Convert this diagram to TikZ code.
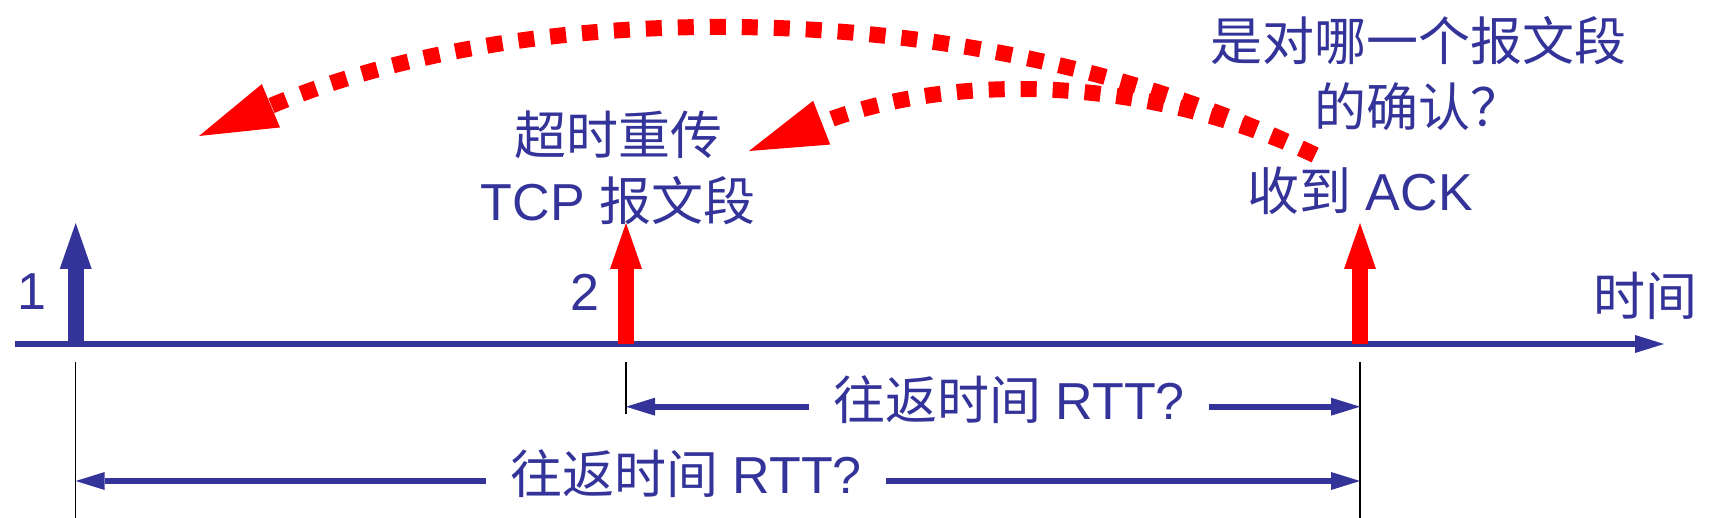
\documentclass[tikz,border=0pt]{standalone}
\usepackage{fontspec}
\setmainfont{Liberation Sans}
\newfontfamily\cjk{Noto Sans CJK SC}
\usetikzlibrary{arrows.meta}
\definecolor{tblue}{RGB}{51,51,153}
\definecolor{tred}{RGB}{255,0,0}
\tikzset{
  lbl/.style={text=tblue, font=\fontsize{52}{66}\selectfont, inner sep=0pt, align=center},
  axisline/.style={draw=tblue, line width=6pt, -{Triangle[length=29pt,width=18pt,line width=0pt]}},
  evtblue/.style={draw=tblue, line width=16pt, -{Triangle[length=46pt,width=32pt,line width=0pt]}},
  evtred/.style={draw=tred, line width=16pt, -{Triangle[length=46pt,width=32pt,line width=0pt]}},
  guide/.style={draw=black, line width=1.5pt},
  rtt/.style={draw=tblue, line width=6pt, -{Triangle[length=29pt,width=18pt,line width=0pt]}},
  retx/.style={draw=tred, line width=16pt, dash pattern=on 16pt off 16pt, -{Triangle[length=78pt,width=47pt,line width=0pt]}},
}
\begin{document}
\begin{tikzpicture}[x=1pt,y=-1pt]
\useasboundingbox (0,0) rectangle (1720,518);
% time axis
\coordinate (ax0) at (15,344);
\coordinate (ax1) at (1664,344);
\draw[axisline] (ax0) -- (ax1);
% events
\coordinate (e1b) at (75.7,344);  \coordinate (e1t) at (75.7,223);
\coordinate (e2b) at (626,344);   \coordinate (e2t) at (626,223);
\coordinate (e3b) at (1360,344);  \coordinate (e3t) at (1360,223);
\draw[evtblue] (e1b) -- (e1t);
\draw[evtred] (e2b) -- (e2t);
\draw[evtred] (e3b) -- (e3t);
% guide lines
\coordinate (g1a) at (75.7,362); \coordinate (g1b) at (75.7,518);
\coordinate (g2a) at (626,362);  \coordinate (g2b) at (626,414);
\coordinate (g3a) at (1360,362); \coordinate (g3b) at (1360,518);
\draw[guide] (g1a) -- (g1b);
\draw[guide] (g2a) -- (g2b);
\draw[guide] (g3a) -- (g3b);
% labels
\node[lbl] (n1) at (32,292) {1};
\node[lbl] (n2) at (585,292) {2};
\node[lbl] (tm) at (1645,296) {\cjk 时间};
\node[lbl] (rt) at (618,168) {{\cjk 超时重传}\\TCP {\cjk 报文段}};
\node[lbl] (ack) at (1360,191) {{\cjk 收到} ACK};
\node[lbl] (q) at (1418,74) {{\cjk 是对哪一个报文段}\\{\cjk 的确认？}};
% RTT arrows
\node[lbl, inner xsep=24pt] (r1) at (1009,400) {{\cjk 往返时间} RTT?};
\coordinate (u1) at (626,406.7);  \coordinate (u2) at (1360,406.7);
\draw[rtt] (r1.west |- u1) -- (u1);
\draw[rtt] (r1.east |- u2) -- (u2);
\node[lbl, inner xsep=24pt] (r2) at (686,474) {{\cjk 往返时间} RTT?};
\coordinate (l1) at (75.7,481);  \coordinate (l2) at (1360,481);
\draw[rtt] (r2.west |- l1) -- (l1);
\draw[rtt] (r2.east |- l2) -- (l2);
% retransmission / ack curves
\coordinate (cs) at (1315,155);
\coordinate (ct1) at (199,136);
\coordinate (ct2) at (749,151);
\draw[retx] (cs) .. controls (986,-7) and (537,-6) .. (ct1);
\draw[retx] (cs) .. controls (1130.5,68.9) and (938.5,77.1) .. (ct2);
\end{tikzpicture}
\end{document}
